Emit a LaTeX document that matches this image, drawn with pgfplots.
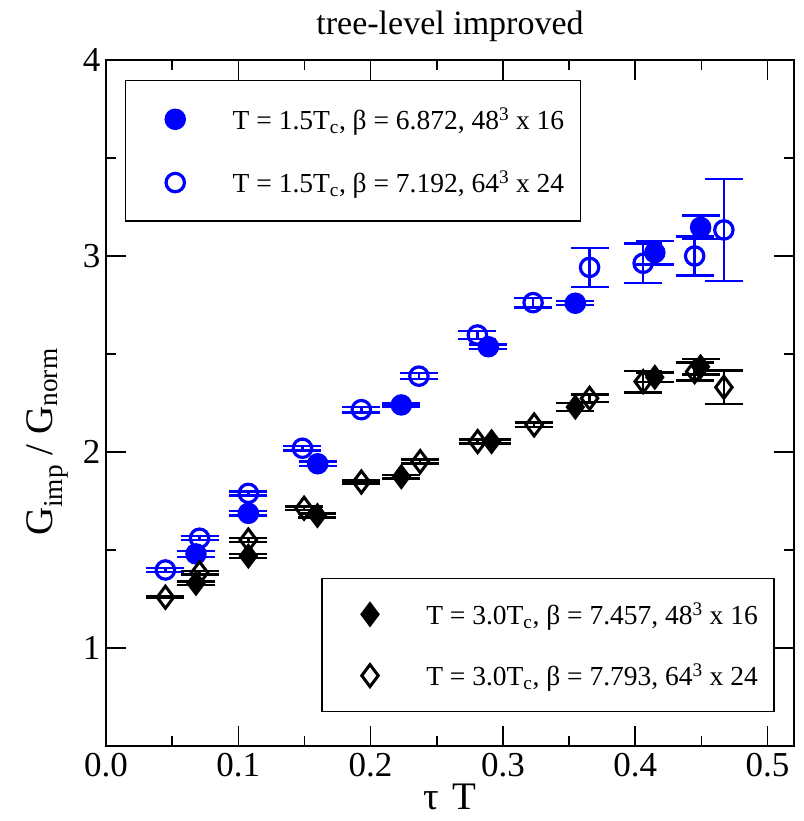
\documentclass[border=0pt]{standalone}
\usepackage{fontspec}
\setmainfont{Liberation Serif}
\usepackage{pgfplots}
\pgfplotsset{compat=1.18}
\definecolor{gblue}{RGB}{0,0,255}

\pgfplotsset{
  frame/.style={
    scale only axis, width=688pt, height=686pt,
    xmin=0, xmax=0.52, ymin=0.5, ymax=4,
    legend cell align=left,
  },
  lgd/.style={
    anchor=north west, draw=black, line width=1.5pt, fill=white,
    inner xsep=40pt, inner ysep=23pt, row sep=32pt,
    font=\fontsize{27.5}{27.5}\selectfont, nodes={inner sep=4pt},
    /tikz/every odd column/.append style={column sep=44pt},
  },
  ebar/.style={
    only marks,
    error bars/y dir=both, error bars/y explicit,
    error bars/error bar style={line width=2.4pt, color=#1},
    error bars/error mark options={rotate=90, mark size=19pt, line width=2.4pt, color=#1},
  },
}
\newcommand{\lgdend}{\hspace*{-28pt}}

\begin{document}
\begin{tikzpicture}
\begin{axis}[
  frame,
  axis line style={line width=1.5pt},
  tick style={line width=1.5pt, black},
  tick align=inside,
  major tick length=20pt, minor tick length=10pt,
  xtick={0,0.1,0.2,0.3,0.4,0.5}, minor x tick num=1,
  ytick={1,2,3,4}, minor y tick num=1,
  /pgf/number format/assume math mode=true,
  xticklabel={\pgfmathprintnumber[fixed,fixed zerofill,precision=1]{\tick}},
  yticklabel={\pgfmathprintnumber[fixed,precision=0]{\tick}},
  xticklabel style={font=\fontsize{35}{35}\selectfont, yshift=-4pt},
  yticklabel style={font=\fontsize{35}{35}\selectfont, xshift=-2pt},
  xlabel={τ\,\,T},
  xlabel style={font=\fontsize{39}{39}\selectfont, yshift=0pt},
  ylabel={G\textsubscript{imp} / G\textsubscript{norm}},
  ylabel style={font=\fontsize{39}{39}\selectfont, at={(ticklabel cs:0.443)}, yshift=8pt},
  title={tree-level improved},
  title style={font=\fontsize{34}{34}\selectfont, yshift=9pt},
  legend style={lgd, at={(0.0276,0.971)}},
]
% T = 1.5 Tc, 48^3 x 16
\addplot+[ebar=gblue, mark=*, mark size=9.5pt, mark options={draw=gblue, fill=gblue, line width=2.5pt}]
  table[x=x, y=y, y error=e] {
x      y      e
0.068  1.480  0.015
0.1076 1.687  0.012
0.160  1.940  0.012
0.2232 2.240  0.008
0.289  2.537  0.012
0.3547 2.759  0.010
0.4148 3.017  0.060
0.4494 3.146  0.060
};
% T = 1.5 Tc, 64^3 x 24
\addplot+[ebar=gblue, mark=o, mark size=9.2pt, mark options={draw=gblue, fill=white, line width=3.2pt}]
  table[x=x, y=y, y error=e] {
x      y      e
0.0449 1.398  0.010
0.0707 1.560  0.010
0.1076 1.789  0.010
0.1485 2.019  0.012
0.193  2.216  0.015
0.2365 2.387  0.015
0.2807 2.597  0.020
0.3228 2.762  0.025
0.3655 2.942  0.100
0.406  2.963  0.100
0.4449 3.000  0.100
0.467  3.133  0.260
};
\legend{{T = 1.5T\textsubscript{c}, β = 6.872, 48\textsuperscript{3} x 16\lgdend},
        {T = 1.5T\textsubscript{c}, β = 7.192, 64\textsuperscript{3} x 24\lgdend}}
\end{axis}

\begin{axis}[
  frame, hide axis,
  legend style={lgd, at={(0.3125,0.2449)}, inner ysep=20pt, row sep=30pt},
]
% T = 3.0 Tc, 48^3 x 16
\addplot+[ebar=black, mark=diamond*, mark size=11pt, mark options={draw=black, fill=black, line width=2.5pt}]
  table[x=x, y=y, y error=e] {
x      y      e
0.068  1.330  0.010
0.1076 1.469  0.010
0.1598 1.676  0.010
0.2232 1.874  0.010
0.2914 2.053  0.010
0.3547 2.229  0.020
0.4148 2.381  0.025
0.4494 2.435  0.040
};
% T = 3.0 Tc, 64^3 x 24
\addplot+[ebar=black, mark=diamond, mark size=11pt, mark options={draw=black, fill=white, line width=3pt}]
  table[x=x, y=y, y error=e] {
x      y      e
0.0449 1.259  0.005
0.0707 1.384  0.010
0.1076 1.551  0.010
0.1497 1.713  0.008
0.193  1.847  0.008
0.2375 1.951  0.010
0.2809 2.053  0.010
0.3236 2.138  0.012
0.3655 2.274  0.020
0.406  2.359  0.055
0.4449 2.410  0.046
0.467  2.330  0.085
};
\legend{{T = 3.0T\textsubscript{c}, β = 7.457, 48\textsuperscript{3} x 16\lgdend},
        {T = 3.0T\textsubscript{c}, β = 7.793, 64\textsuperscript{3} x 24\lgdend}}
\end{axis}
\pgfresetboundingbox
\path (current axis.south west) ++(-106pt,-75pt) rectangle ([xshift=10pt,yshift=60pt]current axis.north east);
\end{tikzpicture}
\end{document}
